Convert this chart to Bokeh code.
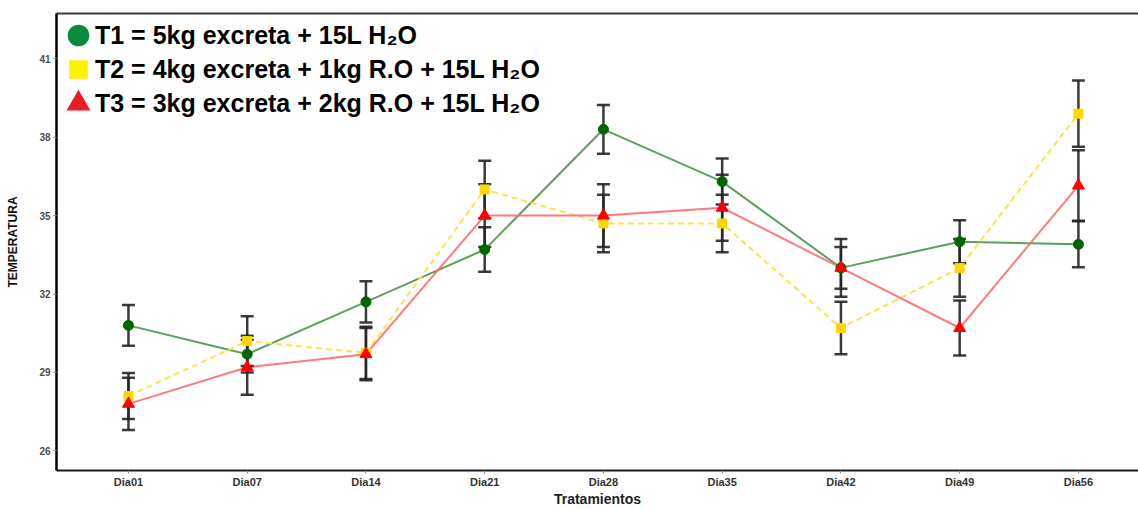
from bokeh.plotting import figure
from bokeh.models import (ColumnDataSource, FixedTicker, Legend, LegendItem,
                          LinearAxis, Range1d)
from bokeh.embed import file_html
from bokeh.resources import INLINE

# ---------------- data ----------------
categories = ["Dia01", "Dia07", "Dia14", "Dia21", "Dia28", "Dia35", "Dia42", "Dia49", "Dia56"]
t1_mean = [30.8, 29.7, 31.7, 33.7, 38.3, 36.3, 33.0, 34.0, 33.9]
t1_err = [0.78, 0.70, 0.79, 0.85, 0.93, 0.88, 0.80, 0.82, 0.88]
t2_mean = [28.1, 30.2, 29.75, 36.0, 34.7, 34.7, 30.7, 33.0, 38.9]
t2_err = [0.88, 0.95, 1.00, 1.10, 1.10, 1.10, 1.00, 1.10, 1.27]
t3_mean = [27.8, 29.2, 29.7, 35.0, 35.0, 35.3, 33.0, 30.7, 36.15]
t3_err = [1.00, 1.05, 1.00, 1.20, 1.20, 1.26, 1.10, 1.05, 1.35]
series_labels = ["T1 = 5kg excreta + 15L H\u2082O",
                 "T2 = 4kg excreta + 1kg R.O + 15L H\u2082O",
                 "T3 = 3kg excreta + 2kg R.O + 15L H\u2082O"]
y_ticks = [26, 29, 32, 35, 38, 41]
x_title = "Tratamientos"
y_title = "TEMPERATURA"

FONT = "Liberation Sans"
x_pos = list(range(1, len(categories) + 1))

p = figure(width=1138, height=509, output_backend="svg", toolbar_location=None,
           x_range=Range1d(0.394, 9.506), y_range=Range1d(25.25, 42.73),
           min_border_left=56, min_border_right=0, min_border_top=13, min_border_bottom=35)
p.outline_line_color = None
p.xgrid.visible = False
p.ygrid.visible = False
p.background_fill_color = "white"

series = [
    dict(mean=t1_mean, err=t1_err, marker="circle", pt="#006400", size=10,
         line="#3f8f3f", alpha=0.85, dash="solid", leg="#0b8a3b", leg_lw=8),
    dict(mean=t2_mean, err=t2_err, marker="square", pt="#FFD700", size=9,
         line="#FFE14D", alpha=1.0, dash="6 4", leg="#FFF200", leg_lw=5),
    dict(mean=t3_mean, err=t3_err, marker="triangle", pt="#FF0000", size=12,
         line="#FF6B6B", alpha=0.9, dash="solid", leg="#ED1C24", leg_lw=6),
]

sources = []
for s in series:
    src = ColumnDataSource(dict(
        x=x_pos, y=s["mean"],
        upper=[m + e for m, e in zip(s["mean"], s["err"])],
        lower=[m - e for m, e in zip(s["mean"], s["err"])]))
    sources.append(src)

# lines
for s, src in zip(series, sources):
    p.line("x", "y", source=src, line_color=s["line"], line_width=2,
           line_alpha=s["alpha"], line_dash=s["dash"])

# error bars
for s, src in zip(series, sources):
    p.segment(x0="x", y0="lower", x1="x", y1="upper", source=src,
              line_color="#262626", line_width=2.5, line_alpha=0.9)
    p.scatter("x", "upper", source=src, marker="dash", size=13,
              line_color="#262626", line_width=2.5, line_alpha=0.9)
    p.scatter("x", "lower", source=src, marker="dash", size=13,
              line_color="#262626", line_width=2.5, line_alpha=0.9)

# points
for s, src in zip(series, sources):
    p.scatter("x", "y", source=src, marker=s["marker"], size=s["size"],
              fill_color=s["pt"], line_color=s["pt"])

# legend-only renderers (hidden in the plot, big keys in the legend)
items = []
for s, src, lab in zip(series, sources, series_labels):
    r = p.scatter("x", "y", source=src, marker=s["marker"], size=10,
                  fill_color=s["leg"], line_color=s["leg"], line_width=s["leg_lw"],
                  line_join="miter")
    r.visible = False
    items.append(LegendItem(label=lab, renderers=[r]))

legend = Legend(items=items, location="top_left", glyph_width=34, glyph_height=34,
                label_height=34, label_standoff=-5, spacing=0, padding=5, margin=0,
                background_fill_alpha=0, border_line_alpha=0,
                inactive_fill_alpha=0,
                label_text_font=FONT, label_text_font_size="25px",
                label_text_font_style="bold", label_text_color="black")
p.add_layout(legend)

# x axis
xa = p.xaxis[0]
xa.ticker = FixedTicker(ticks=x_pos)
xa.major_label_overrides = {x: c for x, c in zip(x_pos, categories)}
xa.major_label_text_font = FONT
xa.major_label_text_font_size = "11px"
xa.major_label_text_font_style = "bold"
xa.major_label_text_color = "#333333"
xa.major_label_standoff = 2
xa.major_tick_out = 3
xa.major_tick_in = 0
xa.major_tick_line_color = "#888888"
xa.minor_tick_line_color = None
xa.axis_line_color = "#1a1a1a"
xa.axis_line_width = 2
xa.axis_label = x_title
xa.axis_label_text_font = FONT
xa.axis_label_text_font_size = "14px"
xa.axis_label_text_font_style = "bold"
xa.axis_label_text_color = "#222222"
xa.axis_label_standoff = 0

# y axis
ya = p.yaxis[0]
ya.ticker = FixedTicker(ticks=y_ticks)
ya.major_label_text_font = FONT
ya.major_label_text_font_size = "10px"
ya.major_label_text_font_style = "bold"
ya.major_label_text_color = "#4d4d4d"
ya.major_label_standoff = 3
ya.major_tick_out = 3
ya.major_tick_in = 0
ya.major_tick_line_color = "#888888"
ya.minor_tick_line_color = None
ya.axis_line_color = "black"
ya.axis_line_width = 2.5
ya.axis_label = y_title
ya.axis_label_text_font = FONT
ya.axis_label_text_font_size = "12px"
ya.axis_label_text_font_style = "bold"
ya.axis_label_text_color = "#111111"
ya.axis_label_standoff = 16

# top border line
top = LinearAxis(ticker=FixedTicker(ticks=[]), major_tick_out=0, major_tick_in=0,
                 minor_tick_out=0, minor_tick_in=0, axis_line_color="#3a3a3a",
                 axis_line_width=2, major_label_text_font_size="0px")
p.add_layout(top, "above")

open("out.html", "w").write(file_html(p, INLINE))
